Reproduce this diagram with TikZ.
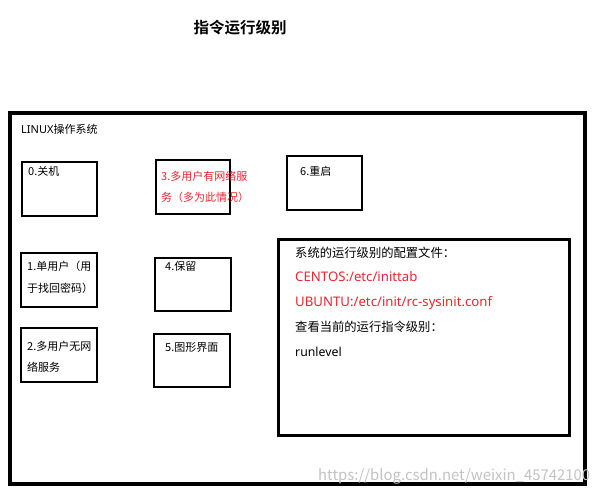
\documentclass[tikz,border=0pt]{standalone}
\usepackage{fontspec}
\setmainfont{Noto Sans CJK SC}
\newfontfamily\cjkb{Noto Sans CJK SC Bold}
\newfontfamily\lat{Noto Sans}
\definecolor{redtxt}{RGB}{240,36,48}
\definecolor{wmark}{RGB}{195,195,195}
\begin{document}
\begin{tikzpicture}[x=1pt,y=-1pt,
  lvbox/.style={draw=black,line width=2.4pt,anchor=north west,inner sep=0pt},
  btxt/.style={anchor=base west,inner sep=0pt,font=\fontsize{11}{13}\selectfont},
  ctxt/.style={anchor=base west,inner sep=0pt,font=\fontsize{12.3}{14}\selectfont},
  cred/.style={ctxt,text=redtxt,font=\lat\fontsize{13.2}{15}\selectfont}]
\useasboundingbox[fill=white] (0,0) rectangle (600,494);
\node[anchor=base,inner sep=0pt,font=\cjkb\fontsize{15.5}{18}\selectfont] (title) at (240,34) {指令运行级别};
\node[draw=black,line width=4pt,anchor=north west,minimum width=575,minimum height=371,inner sep=0pt] (os) at (8,111) {};
\node[btxt] (ostxt) at (21,134) {{\lat LINUX}操作系统};
% boxes
\node[lvbox,minimum width=75,minimum height=54] (b0) at (21,161) {};
\node[btxt] (t0) at (28,176) {0.关机};
\node[lvbox,minimum width=74,minimum height=54] (b3) at (155,159) {};
\node[btxt,text=redtxt] (t3a) at (161,181) {3.多用户有网络服};
\node[btxt,text=redtxt] (t3b) at (161,202) {务（多为此情况）};
\node[lvbox,minimum width=75,minimum height=54] (b6) at (286,155) {};
\node[btxt] (t6) at (300,176) {6.重启};
\node[lvbox,minimum width=76,minimum height=54] (b1) at (20,252) {};
\node[btxt] (t1a) at (27,271) {1.单用户（用};
\node[btxt] (t1b) at (27,293) {于找回密码）};
\node[lvbox,minimum width=76,minimum height=53] (b4) at (154,257) {};
\node[btxt] (t4) at (165,271) {4.保留};
\node[lvbox,minimum width=76,minimum height=54] (b2) at (20,327) {};
\node[btxt] (t2a) at (27,351) {2.多用户无网};
\node[btxt] (t2b) at (27,371) {络服务};
\node[lvbox,minimum width=76,minimum height=53] (b5) at (153,333) {};
\node[btxt] (t5) at (165,352) {5.图形界面};
% config box
\node[draw=black,line width=3pt,anchor=north west,minimum width=291,minimum height=196,inner sep=0pt] (cfg) at (277,238) {};
\node[ctxt] (c1) at (295,258) {系统的运行级别的配置文件：};
\node[cred] (c2) at (295,282) {CENTOS:/etc/inittab};
\node[cred] (c3) at (295,307) {UBUNTU:/etc/init/rc-sysinit.conf};
\node[ctxt] (c4) at (295,332) {查看当前的运行指令级别：};
\node[ctxt,font=\lat\fontsize{12.3}{14}\selectfont] (c5) at (295,357) {runlevel};
% watermark
\node[anchor=base west,inner sep=0pt,text=wmark,font=\fontsize{14.9}{17}\selectfont] (wm) at (318,480) {https://blog.csdn.net/weixin\_45742100};
\end{tikzpicture}
\end{document}
